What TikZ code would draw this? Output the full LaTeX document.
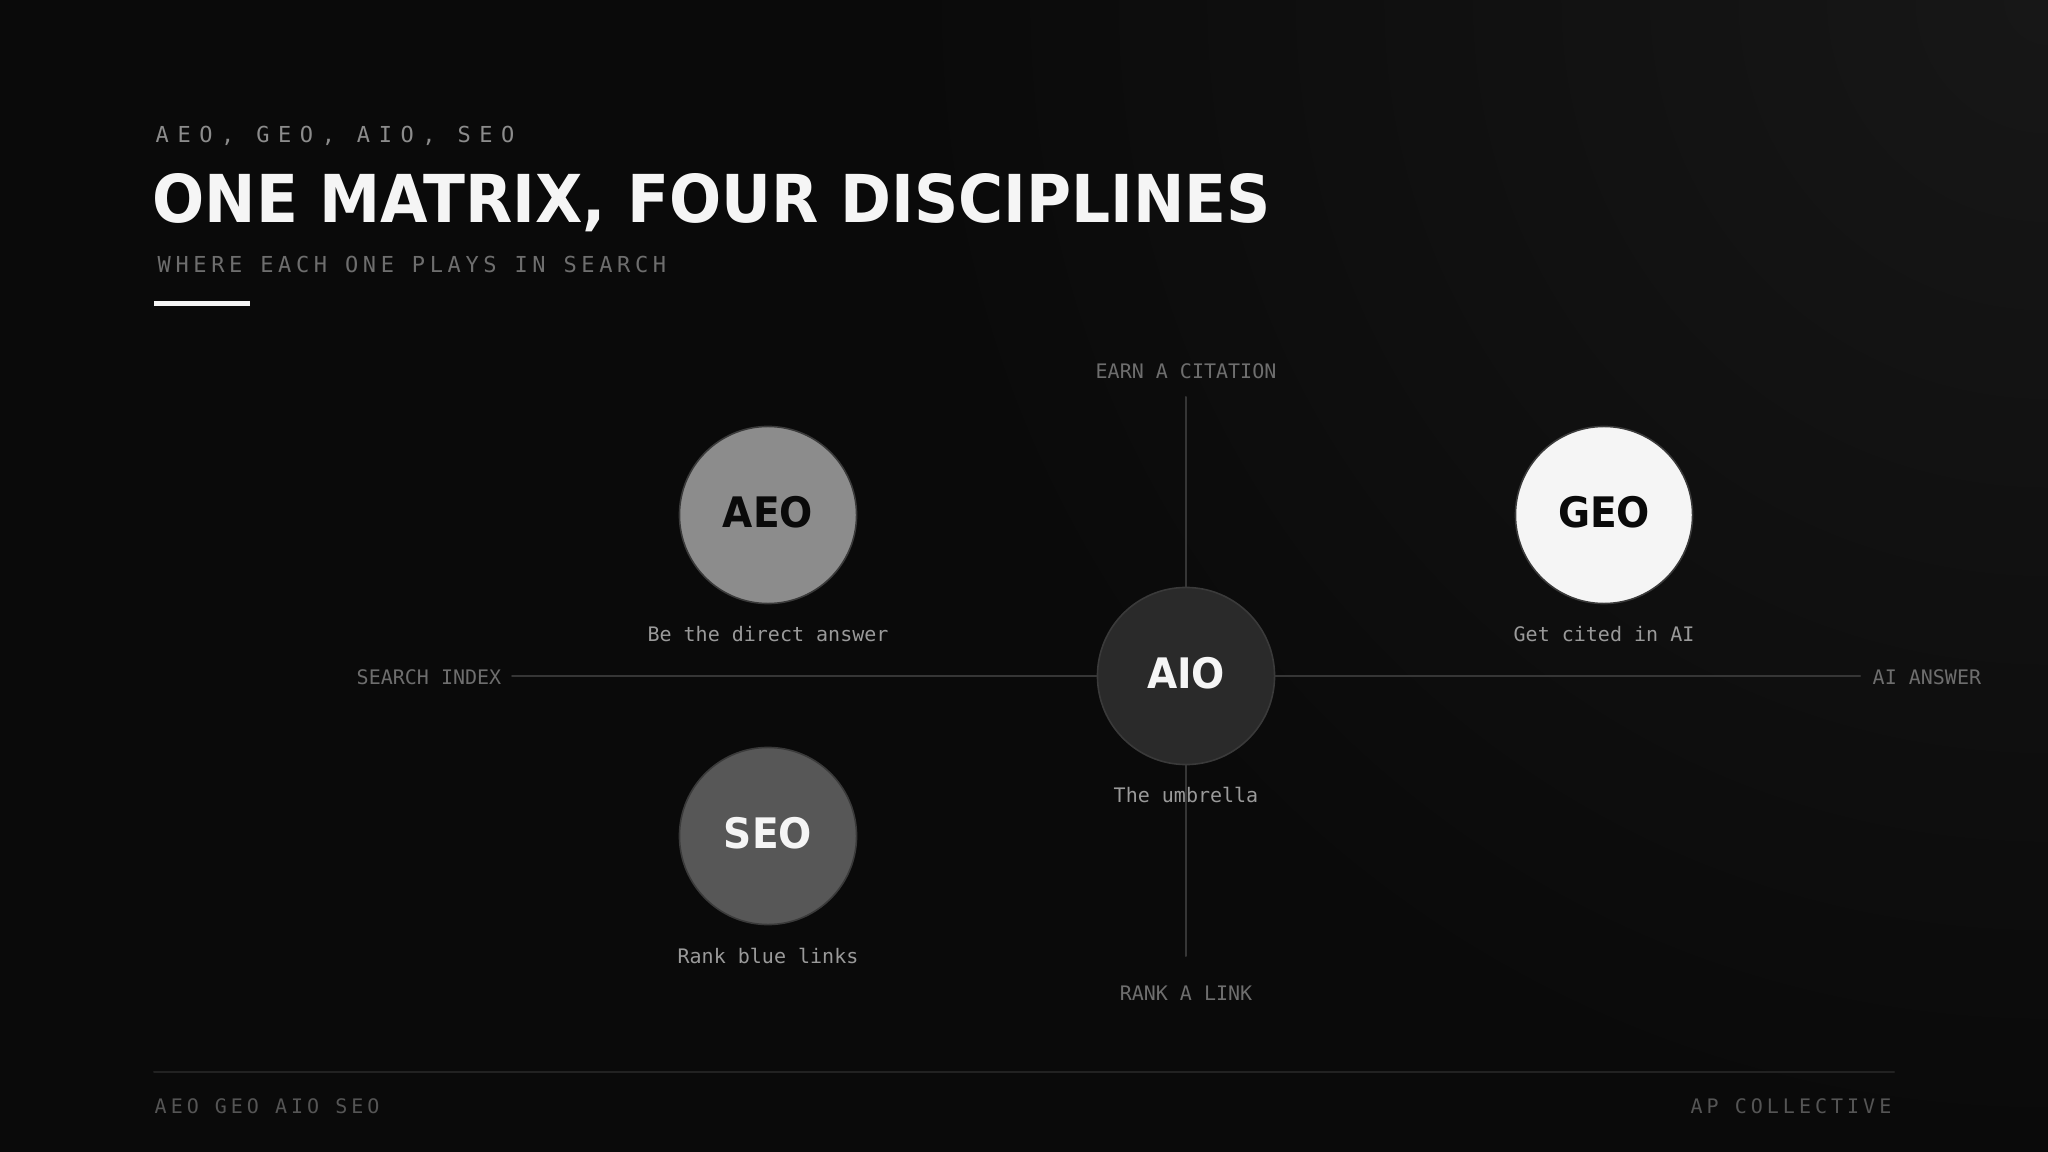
\documentclass[tikz,border=0pt]{standalone}
\usepackage{fontspec}
\setmainfont{DejaVu Sans}
\setmonofont{DejaVu Sans Mono}
\newfontfamily\headfont{DejaVu Sans}[FakeStretch=0.93]
\newfontfamily\kickerfont{DejaVu Sans Mono}[LetterSpace=39]
\newfontfamily\subfont{DejaVu Sans Mono}[LetterSpace=21]
\newfontfamily\footfont{DejaVu Sans Mono}[LetterSpace=20]
\usetikzlibrary{positioning}

\definecolor{bgdark}{HTML}{0A0A0A}
\definecolor{bgglow}{HTML}{171717}
\definecolor{inkwhite}{HTML}{F5F5F5}
\definecolor{inkblack}{HTML}{0A0A0A}
\definecolor{kicker}{HTML}{8C8C8C}
\definecolor{muted}{HTML}{6E6E6E}
\definecolor{caption}{HTML}{9A9A9A}
\definecolor{axisgray}{HTML}{363636}
\definecolor{rulegray}{HTML}{222222}
\definecolor{footgray}{HTML}{555555}
\definecolor{ringgray}{HTML}{3A3A3A}
\definecolor{aeofill}{HTML}{8C8C8C}
\definecolor{geofill}{HTML}{F5F5F5}
\definecolor{aiofill}{HTML}{2A2A2A}
\definecolor{seofill}{HTML}{575757}

\begin{document}
\begin{tikzpicture}[x=0.01cm, y=-0.01cm, line cap=round, line join=round,
    disc/.style={circle, minimum size=1.77cm, inner sep=0pt, text depth=0.06cm,
      draw=ringgray, line width=0.45pt,
      font=\fontsize{11.95pt}{12pt}\selectfont\headfont\bfseries},
    caption/.style={anchor=base, inner sep=0pt, text=caption,
      font=\fontsize{5.69pt}{6pt}\selectfont\ttfamily},
    axislabel/.style={inner sep=0pt, text=muted,
      font=\fontsize{5.69pt}{6pt}\selectfont\ttfamily},
    axis/.style={draw=axisgray, line width=0.57pt}]

  % Nền và vùng sáng góc phải
  \useasboundingbox (0,0) rectangle (2048,1152);
  \fill[bgdark] (0,0) rectangle (2048,1152);
  \begin{scope}
    \clip (0,0) rectangle (2048,1152);
    \shade[inner color=bgglow, outer color=bgdark] (2048,0) circle [radius=11.5cm];
  \end{scope}

  % Tiêu đề
  \node[anchor=base west, inner sep=0pt, text=kicker,
    font=\fontsize{6.26pt}{7pt}\selectfont\kickerfont] (kick) at (155,143) {AEO, GEO, AIO, SEO};
  \node[anchor=base west, inner sep=0pt, text=inkwhite,
    font=\fontsize{18.78pt}{20pt}\selectfont\headfont\bfseries] (title) at (152,223) {ONE MATRIX, FOUR DISCIPLINES};
  \node[anchor=base west, inner sep=0pt, text=muted,
    font=\fontsize{6.26pt}{7pt}\selectfont\subfont] (sub) at (157,273) {WHERE EACH ONE PLAYS IN SEARCH};
  \fill[inkwhite] (154,301.5) rectangle (250,306.5);

  % Các điểm đầu mút của trục
  \coordinate (vtop) at (1186,397);
  \coordinate (vbot) at (1186,956);
  \coordinate (hleft) at (512,676);
  \coordinate (hright) at (1860,676);

  % Các vòng tròn
  \node[disc, fill=aeofill, text=inkblack] (aeo) at (768,515) {AEO};
  \node[disc, fill=geofill, text=inkblack] (geo) at (1604,515) {GEO};
  \node[disc, fill=aiofill, text=inkwhite] (aio) at (1186,676) {AIO};
  \node[disc, fill=seofill, text=inkwhite] (seo) at (768,836) {SEO};

  % Vẽ hai trục
  \draw[axis] (vtop) -- (aio);
  \draw[axis] (aio) -- (vbot);
  \draw[axis] (hleft) -- (aio);
  \draw[axis] (aio) -- (hright);

  % Nhãn trục
  \node[axislabel, anchor=base] (cite) at (1186,379) {EARN A CITATION};
  \node[axislabel, anchor=base] (rank) at (1186,1000) {RANK A LINK};
  \node[axislabel, anchor=base east] (index) at (502,684) {SEARCH INDEX};
  \node[axislabel, anchor=base west] (answer) at (1872,684) {AI ANSWER};

  % Chú thích dưới vòng tròn
  \node[caption] (aeocap) at (768,642) {Be the direct answer};
  \node[caption] (geocap) at (1604,642) {Get cited in AI};
  \node[caption] (aiocap) at (1186,802) {The umbrella};
  \node[caption] (seocap) at (768,963) {Rank blue links};

  % Chân trang
  \draw[rulegray, line width=0.57pt] (154,1072) -- (1894,1072);
  \node[anchor=base west, inner sep=0pt, text=footgray,
    font=\fontsize{5.69pt}{6pt}\selectfont\footfont] (footl) at (154,1113) {AEO GEO AIO SEO};
  \node[anchor=base east, inner sep=0pt, text=footgray,
    font=\fontsize{5.69pt}{6pt}\selectfont\footfont] (footr) at (1892,1113) {AP COLLECTIVE};
\end{tikzpicture}
\end{document}
